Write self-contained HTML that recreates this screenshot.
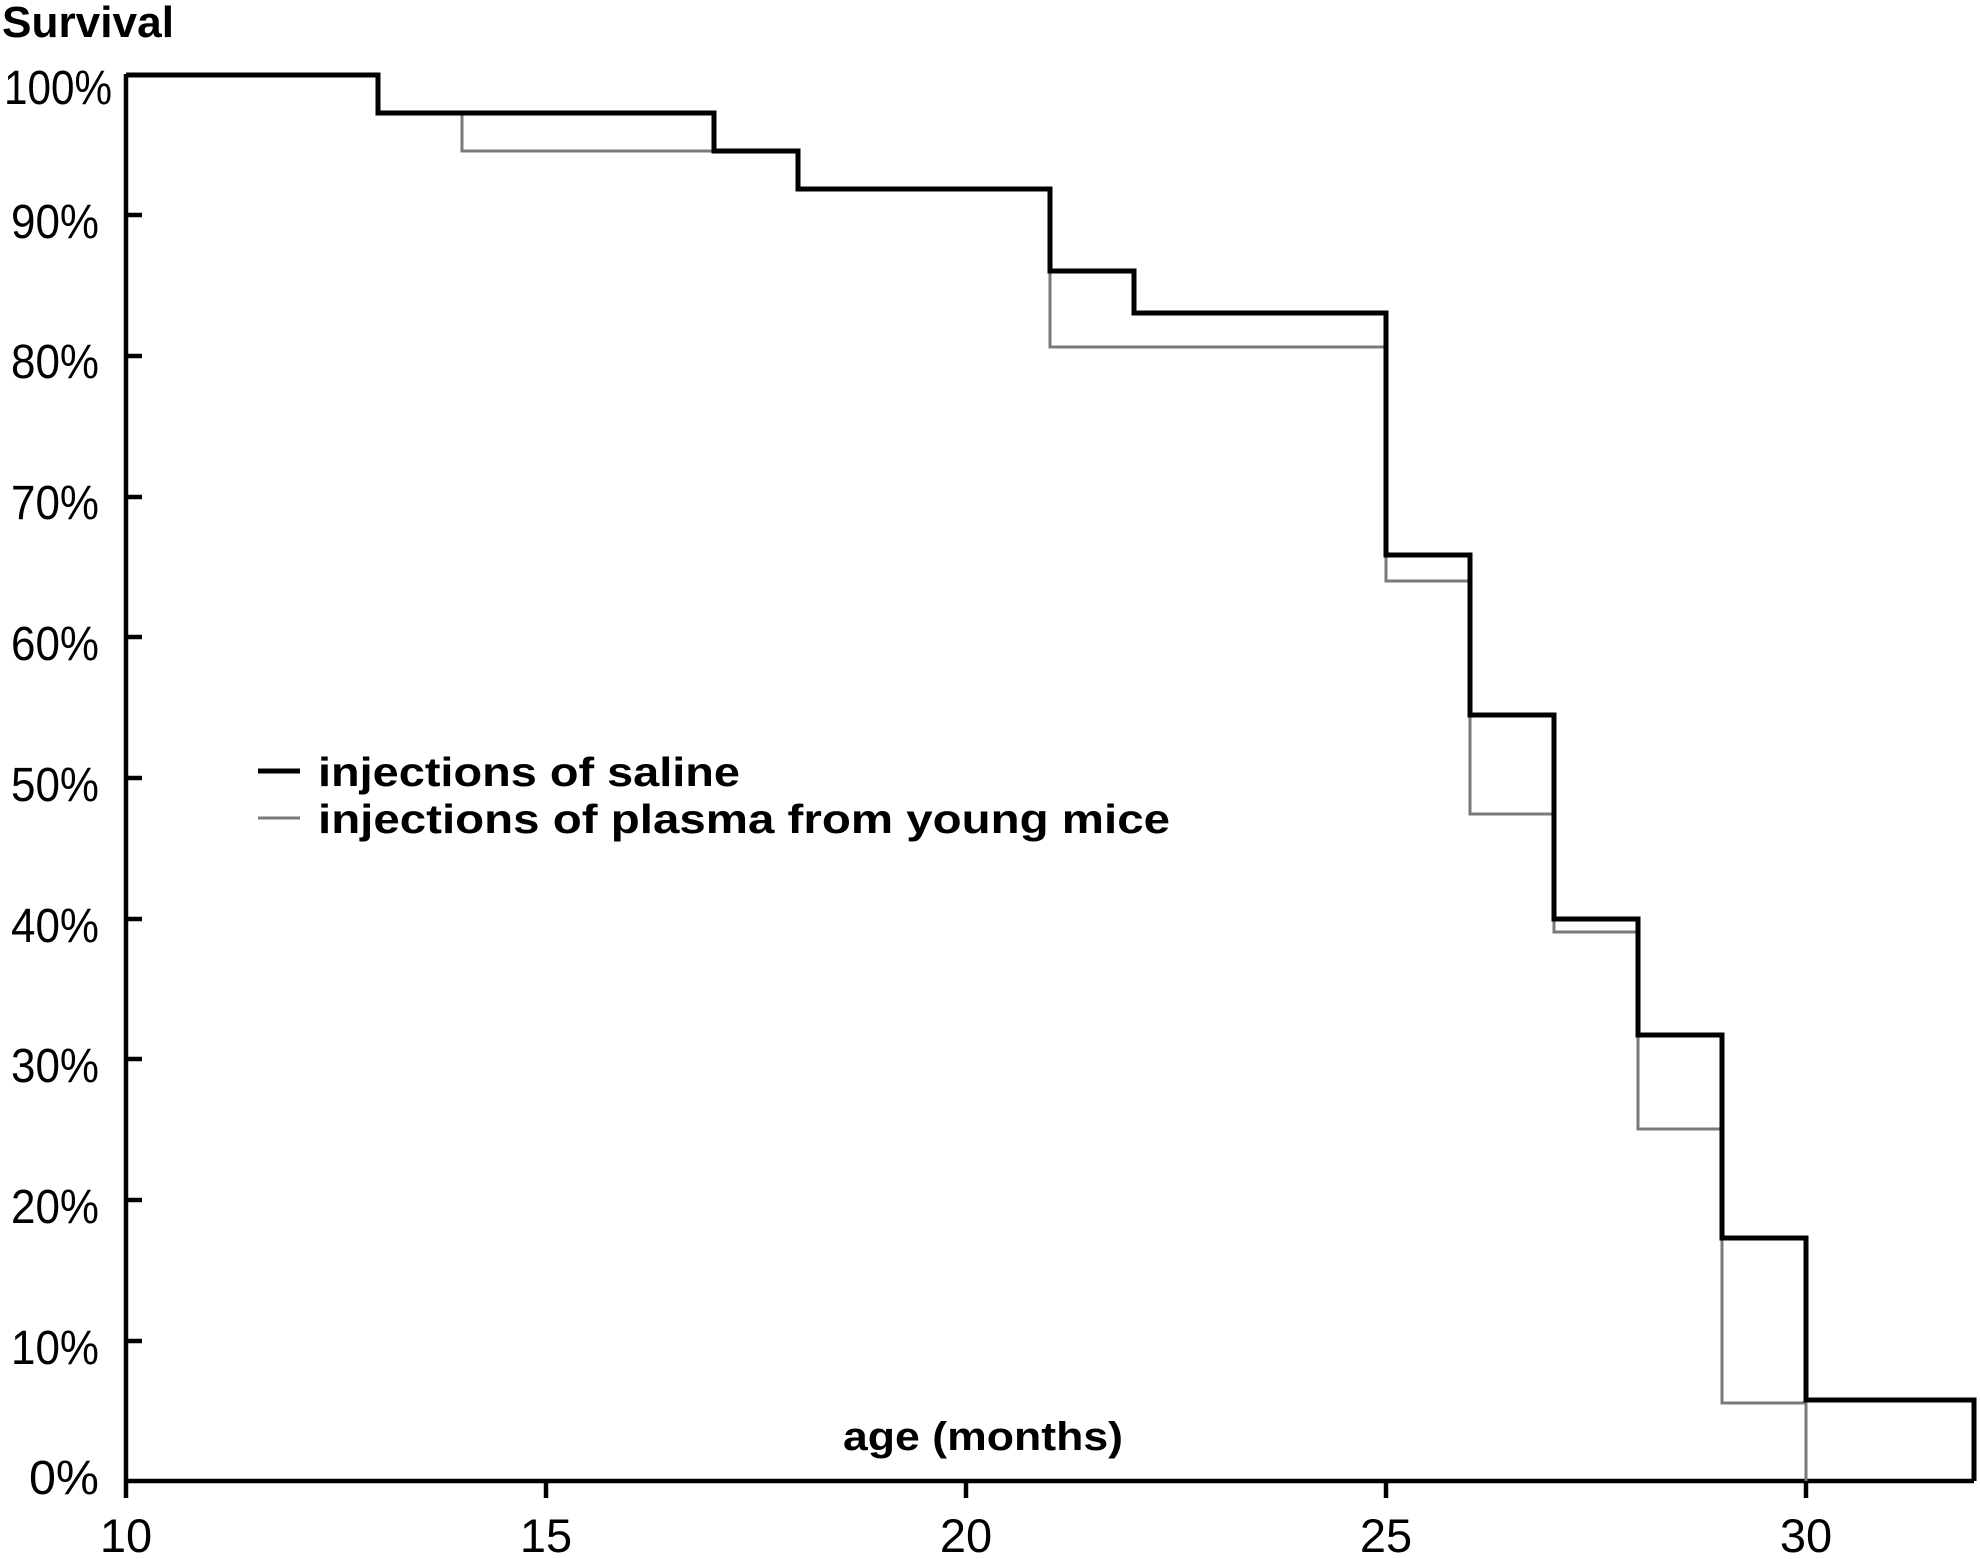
<!DOCTYPE html>
<html><head><style>html,body{margin:0;padding:0;background:#fff}</style></head><body>
<svg width="1980" height="1554" viewBox="0 0 1980 1554" xmlns="http://www.w3.org/2000/svg" font-family="Liberation Sans, Arial, sans-serif">
<rect width="1980" height="1554" fill="#fff"/>
<text x="2" y="37" font-size="44" font-weight="bold" textLength="172" lengthAdjust="spacingAndGlyphs">Survival</text>
<g font-size="48" text-anchor="end">
<text x="112" y="104" textLength="108" lengthAdjust="spacingAndGlyphs">100%</text>
<text x="99" y="238" textLength="88" lengthAdjust="spacingAndGlyphs">90%</text>
<text x="99" y="378" textLength="88" lengthAdjust="spacingAndGlyphs">80%</text>
<text x="99" y="519" textLength="88" lengthAdjust="spacingAndGlyphs">70%</text>
<text x="99" y="660" textLength="88" lengthAdjust="spacingAndGlyphs">60%</text>
<text x="99" y="801" textLength="88" lengthAdjust="spacingAndGlyphs">50%</text>
<text x="99" y="942" textLength="88" lengthAdjust="spacingAndGlyphs">40%</text>
<text x="99" y="1082" textLength="88" lengthAdjust="spacingAndGlyphs">30%</text>
<text x="99" y="1223" textLength="88" lengthAdjust="spacingAndGlyphs">20%</text>
<text x="99" y="1364" textLength="88" lengthAdjust="spacingAndGlyphs">10%</text>
<text x="99" y="1494" textLength="70" lengthAdjust="spacingAndGlyphs">0%</text>
</g>
<g font-size="47" text-anchor="middle">
<text x="126" y="1552">10</text>
<text x="546" y="1552">15</text>
<text x="966" y="1552">20</text>
<text x="1386" y="1552">25</text>
<text x="1806" y="1552">30</text>
</g>
<text x="843" y="1450" font-size="40" font-weight="bold" textLength="280" lengthAdjust="spacingAndGlyphs">age (months)</text>
<g stroke="#000" stroke-width="4.5" fill="none">
<line x1="126" y1="74" x2="126" y2="1498"/>
<line x1="124" y1="1481" x2="1974" y2="1481"/>
<line x1="546" y1="1481" x2="546" y2="1498"/>
<line x1="966" y1="1481" x2="966" y2="1498"/>
<line x1="1386" y1="1481" x2="1386" y2="1498"/>
<line x1="1806" y1="1481" x2="1806" y2="1498"/>
<line x1="126" y1="215" x2="142" y2="215"/>
<line x1="126" y1="356" x2="142" y2="356"/>
<line x1="126" y1="497" x2="142" y2="497"/>
<line x1="126" y1="637" x2="142" y2="637"/>
<line x1="126" y1="778" x2="142" y2="778"/>
<line x1="126" y1="919" x2="142" y2="919"/>
<line x1="126" y1="1059" x2="142" y2="1059"/>
<line x1="126" y1="1200" x2="142" y2="1200"/>
<line x1="126" y1="1341" x2="142" y2="1341"/>
</g>
<polyline fill="none" stroke="#7a7a7a" stroke-width="3" points="378,113 462,113 462,151 798,151 798,189 1050,189 1050,347 1386,347 1386,581 1470,581 1470,814 1554,814 1554,932 1638,932 1638,1129 1722,1129 1722,1403 1806,1403 1806,1481"/>
<polyline fill="none" stroke="#000" stroke-width="5" points="126,75 378,75 378,113 714,113 714,151 798,151 798,189 1050,189 1050,271 1134,271 1134,313 1386,313 1386,555 1470,555 1470,715 1554,715 1554,919 1638,919 1638,1035 1722,1035 1722,1238 1806,1238 1806,1400 1974,1400 1974,1481"/>
<line x1="258" y1="771" x2="300" y2="771" stroke="#000" stroke-width="5"/>
<line x1="258" y1="818" x2="300" y2="818" stroke="#7a7a7a" stroke-width="3"/>
<text x="318" y="786" font-size="41" font-weight="bold" textLength="422" lengthAdjust="spacingAndGlyphs">injections of saline</text>
<text x="318" y="833" font-size="41" font-weight="bold" textLength="852" lengthAdjust="spacingAndGlyphs">injections of plasma from young mice</text>
</svg>
</body></html>
